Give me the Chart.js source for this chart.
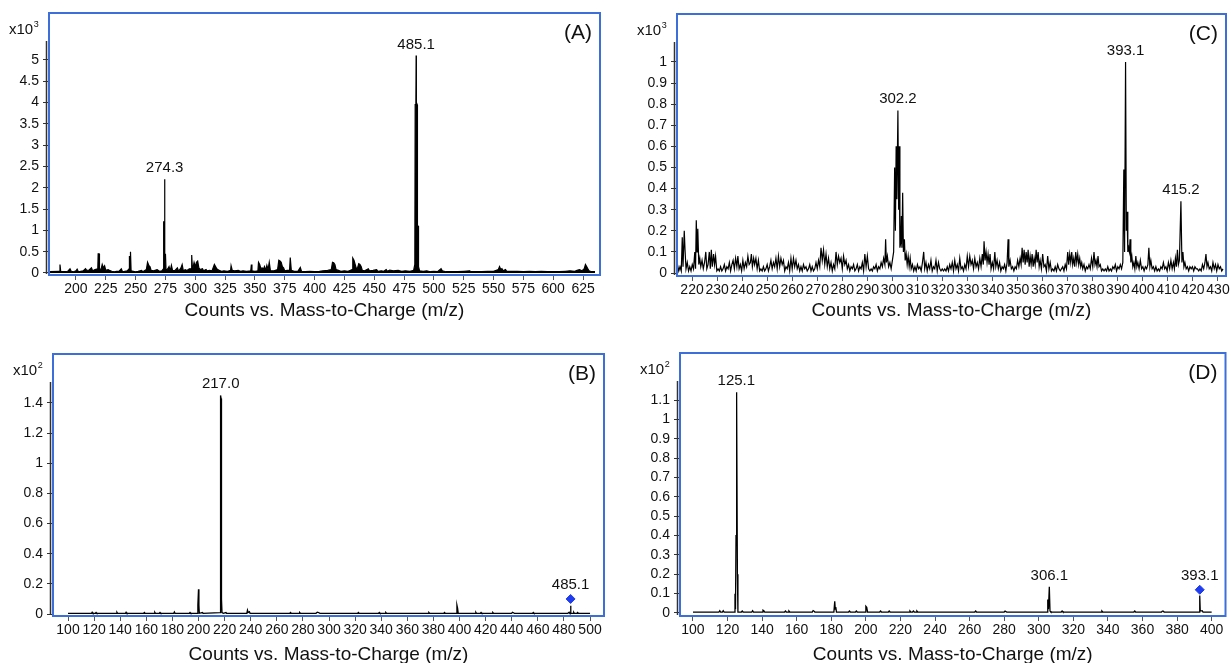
<!DOCTYPE html>
<html><head><meta charset="utf-8">
<script src="https://cdn.jsdelivr.net/npm/chart.js@4.4.0/dist/chart.umd.min.js"></script>
<style>
html,body{margin:0;padding:0;background:#fff;width:1231px;height:663px;overflow:hidden;position:relative;}
canvas{position:absolute;}
</style></head><body>
<canvas id="cA" width="615" height="331" style="left:0;top:0"></canvas>
<canvas id="cC" width="616" height="331" style="left:615px;top:0"></canvas>
<canvas id="cB" width="615" height="340" style="left:0;top:331px"></canvas>
<canvas id="cD" width="616" height="340" style="left:615px;top:331px"></canvas>
<script>
// ---------------- DATA ----------------
const xTicksA = [200,225,250,275,300,325,350,375,400,425,450,475,500,525,550,575,600,625];
const yTicksA = [0,0.5,1,1.5,2,2.5,3,3.5,4,4.5,5];
const xTicksC = [220,230,240,250,260,270,280,290,300,310,320,330,340,350,360,370,380,390,400,410,420,430];
const yTicksC = [0,0.1,0.2,0.3,0.4,0.5,0.6,0.7,0.8,0.9,1];
const xTicksB = [100,120,140,160,180,200,220,240,260,280,300,320,340,360,380,400,420,440,460,480,500];
const yTicksB = [0,0.2,0.4,0.6,0.8,1,1.2,1.4];
const xTicksD = [100,120,140,160,180,200,220,240,260,280,300,320,340,360,380,400];
const yTicksD = [0,0.1,0.2,0.3,0.4,0.5,0.6,0.7,0.8,0.9,1,1.1];

// peak labels: [m/z, height of mark top]
const peaksA = [[274.3,2.2],[485.1,5.1]];
const peaksC = [[302.2,0.77],[393.1,1.0],[415.2,0.34]];
const peaksB = [[217.0,1.45],[485.1,0.1]];
const peaksD = [[125.1,1.14],[306.1,0.135],[393.1,0.12]];
// precursor markers (blue diamonds)
const markersB = [[485.1,0.1]];
const markersD = [[393.1,0.12]];

// spectra [m/z, counts]
const specA = [[178,0.03],[186,0.04],[186.6,0.2],[187.2,0.04],[190,0.03],[193,0.04],[195,0.1],[196,0.04],[198,0.03],[200,0.05],[201,0.09],[202,0.03],[204,0.04],[206,0.05],[208,0.1],[209,0.06],[211,0.07],[213,0.12],[214,0.05],[216,0.08],[218.3,0.1],[218.6,0.45],[219.4,0.45],[219.7,0.1],[221,0.08],[222,0.2],[223,0.12],[224,0.17],[225,0.06],[227,0.08],[228,0.06],[230,0.04],[232,0.03],[234,0.04],[236,0.04],[238,0.1],[239,0.03],[241,0.04],[243,0.05],[244.5,0.1],[244.8,0.4],[245.3,0.1],[245.7,0.5],[246.2,0.05],[248,0.04],[250,0.03],[252,0.04],[255,0.06],[256,0.03],[259,0.08],[260,0.25],[261,0.18],[262,0.15],[263,0.06],[265,0.05],[268,0.08],[270,0.04],[272,0.05],[273.3,0.1],[273.5,1.2],[274.1,1.2],[274.3,2.2],[274.5,0.3],[275,0.45],[275.5,0.05],[277,0.1],[278,0.15],[279,0.05],[280,0.18],[281,0.05],[283,0.06],[285,0.12],[286,0.04],[288,0.12],[289,0.2],[290,0.05],[291.5,0.08],[293,0.06],[295,0.1],[296.5,0.1],[297,0.42],[297.5,0.15],[298,0.1],[299,0.25],[300,0.15],[301,0.25],[302,0.28],[303,0.12],[304,0.08],[306,0.1],[307,0.05],[309,0.08],[310,0.05],[312,0.06],[314,0.05],[316,0.2],[317,0.15],[318,0.1],[320,0.06],[322,0.04],[324,0.05],[327,0.04],[329.6,0.06],[330,0.17],[331,0.06],[333,0.05],[336,0.06],[338,0.04],[340,0.05],[343,0.04],[346.5,0.05],[347,0.2],[347.5,0.05],[350,0.04],[352.5,0.05],[353,0.25],[354,0.2],[355,0.1],[356,0.12],[357,0.08],[358,0.15],[359,0.06],[360,0.18],[361,0.08],[362,0.25],[363,0.05],[366,0.05],[369,0.08],[370,0.3],[371,0.28],[372,0.25],[373,0.15],[374,0.12],[375,0.05],[377,0.06],[379,0.06],[379.6,0.36],[380.2,0.36],[380.5,0.06],[383,0.04],[386,0.04],[388,0.13],[389,0.04],[392,0.03],[396,0.04],[400,0.03],[404,0.04],[407,0.05],[411,0.06],[414,0.08],[415,0.25],[416,0.24],[417,0.2],[418,0.08],[420,0.06],[422,0.04],[425,0.05],[428,0.04],[431.5,0.08],[432,0.35],[433,0.3],[434,0.2],[435,0.1],[436,0.12],[437,0.22],[438,0.2],[439,0.15],[440,0.06],[442,0.05],[445,0.1],[446,0.05],[449,0.06],[452,0.08],[453,0.04],[456,0.05],[458,0.04],[460,0.08],[461,0.04],[463,0.07],[466,0.05],[470,0.06],[473,0.04],[476,0.05],[480,0.04],[483,0.06],[484,0.2],[484.3,3.95],[484.9,4.0],[485.1,5.1],[485.3,4.0],[486.0,3.95],[486.2,1.1],[486.8,1.1],[487.1,0.15],[488,0.05],[491,0.04],[494,0.05],[497,0.03],[500,0.04],[503,0.03],[506,0.1],[507,0.05],[510,0.03],[515,0.03],[520,0.03],[525,0.04],[530,0.05],[531,0.03],[535,0.03],[540,0.03],[545,0.04],[550,0.04],[554,0.08],[555,0.15],[556,0.08],[557,0.1],[558,0.05],[560,0.08],[561,0.04],[565,0.04],[570,0.04],[575,0.03],[580,0.04],[585,0.03],[590,0.04],[595,0.03],[600,0.03],[605,0.03],[610,0.04],[614,0.05],[618,0.04],[620,0.06],[622,0.08],[624,0.05],[626,0.1],[627,0.2],[628,0.15],[629,0.1],[630,0.05],[632,0.03],[635,0.03]];

const specC = [[214.2,0.04],[214.7,0.01],[215.2,0.03],[215.7,0.01],[216.1,0.17],[216.4,0.03],[216.9,0.2],[217.2,0.11],[217.6,0.02],[218.1,0.05],[218.6,0.01],[219.1,0.03],[219.6,0.01],[220.1,0.04],[220.6,0.02],[221.1,0.1],[221.4,0.02],[221.7,0.25],[222.0,0.1],[222.3,0.21],[222.7,0.04],[223.1,0.07],[223.5,0.03],[224.0,0.06],[224.5,0.02],[225.0,0.05],[225.5,0.1],[225.9,0.02],[226.4,0.04],[226.9,0.1],[227.3,0.02],[227.7,0.11],[228.1,0.03],[228.6,0.09],[229.0,0.04],[229.4,0.08],[229.9,0.01],[230.4,0.02],[230.9,0.01],[231.4,0.03],[231.9,0.01],[232.4,0.02],[232.9,0.04],[233.4,0.01],[233.9,0.03],[234.4,0.02],[234.9,0.05],[235.4,0.01],[235.9,0.04],[236.4,0.06],[236.9,0.02],[237.4,0.07],[237.9,0.03],[238.3,0.08],[238.8,0.02],[239.3,0.04],[239.8,0.01],[240.3,0.06],[240.8,0.02],[241.3,0.05],[241.8,0.03],[242.3,0.08],[242.8,0.04],[243.3,0.05],[243.7,0.09],[244.1,0.03],[244.6,0.07],[245.0,0.04],[245.5,0.07],[246.0,0.02],[246.5,0.06],[247.0,0.01],[247.5,0.02],[248.0,0.01],[248.5,0.03],[249.0,0.01],[249.5,0.02],[250.0,0.04],[250.5,0.01],[251.0,0.03],[251.5,0.06],[252.0,0.02],[252.5,0.05],[253.0,0.03],[253.5,0.07],[254.0,0.02],[254.5,0.08],[255.0,0.03],[255.5,0.07],[256.0,0.04],[256.5,0.06],[257.0,0.01],[257.5,0.03],[258.0,0.02],[258.5,0.05],[259.0,0.01],[259.5,0.07],[260.0,0.02],[260.5,0.07],[261.0,0.03],[261.5,0.06],[262.0,0.02],[262.5,0.04],[263.0,0.01],[263.5,0.03],[264.0,0.01],[264.5,0.04],[265.0,0.02],[265.5,0.03],[266.0,0.01],[266.5,0.02],[267.0,0.04],[267.5,0.01],[268.0,0.03],[268.5,0.01],[269.0,0.02],[269.5,0.05],[270.0,0.02],[270.5,0.06],[271.0,0.03],[271.5,0.12],[272.0,0.06],[272.5,0.11],[273.0,0.04],[273.5,0.09],[274.0,0.03],[274.5,0.07],[275.0,0.02],[275.5,0.05],[276.0,0.01],[276.5,0.04],[277.0,0.02],[277.5,0.1],[278.0,0.04],[278.5,0.08],[279.0,0.05],[279.5,0.07],[280.0,0.02],[280.5,0.08],[281.0,0.04],[281.5,0.06],[282.0,0.02],[282.5,0.04],[283.0,0.01],[283.5,0.03],[284.0,0.02],[284.5,0.04],[285.0,0.01],[285.5,0.02],[286.0,0.04],[286.5,0.01],[287.0,0.03],[287.5,0.02],[288.0,0.05],[288.5,0.01],[289.0,0.09],[289.5,0.03],[290.0,0.08],[290.5,0.02],[291.0,0.01],[291.5,0.02],[292.0,0.01],[292.5,0.03],[293.0,0.02],[293.5,0.04],[294.0,0.01],[294.5,0.03],[295.0,0.02],[295.5,0.05],[296.0,0.03],[296.5,0.07],[297.0,0.04],[297.3,0.16],[297.6,0.05],[298.0,0.08],[298.5,0.03],[299.0,0.05],[299.5,0.02],[300.0,0.06],[300.5,0.1],[300.9,0.5],[301.2,0.2],[301.5,0.6],[301.8,0.35],[302.2,0.77],[302.5,0.3],[302.7,0.6],[303.0,0.12],[303.3,0.14],[303.6,0.27],[303.8,0.12],[304.1,0.38],[304.4,0.1],[304.8,0.16],[305.1,0.06],[305.5,0.09],[305.9,0.04],[306.3,0.08],[306.7,0.03],[307.1,0.07],[307.5,0.02],[308.0,0.04],[308.5,0.01],[309.0,0.03],[309.5,0.01],[310.0,0.04],[310.5,0.02],[311.0,0.03],[311.5,0.01],[312.0,0.05],[312.5,0.1],[312.9,0.02],[313.4,0.05],[313.9,0.01],[314.4,0.04],[314.9,0.02],[315.4,0.06],[315.9,0.01],[316.4,0.03],[316.9,0.02],[317.4,0.06],[317.9,0.01],[318.4,0.05],[318.9,0.02],[319.4,0.01],[319.9,0.02],[320.4,0.01],[320.9,0.02],[321.4,0.01],[321.9,0.03],[322.4,0.01],[322.9,0.04],[323.4,0.02],[323.9,0.05],[324.4,0.01],[324.9,0.06],[325.4,0.02],[325.9,0.04],[326.4,0.01],[326.9,0.07],[327.4,0.02],[327.9,0.03],[328.4,0.01],[328.9,0.04],[329.4,0.02],[329.9,0.08],[330.4,0.03],[330.9,0.08],[331.4,0.04],[331.9,0.06],[332.4,0.02],[332.9,0.07],[333.4,0.03],[333.9,0.05],[334.4,0.02],[334.9,0.07],[335.4,0.03],[335.9,0.09],[336.3,0.04],[336.6,0.15],[337.0,0.06],[337.4,0.1],[337.8,0.05],[338.2,0.09],[338.6,0.04],[339.0,0.09],[339.4,0.02],[339.9,0.05],[340.4,0.02],[340.9,0.1],[341.3,0.03],[341.8,0.06],[342.3,0.02],[342.8,0.05],[343.3,0.01],[343.8,0.03],[344.3,0.02],[344.8,0.04],[345.3,0.01],[345.8,0.05],[346.2,0.16],[346.5,0.03],[347.0,0.06],[347.5,0.02],[348.0,0.03],[348.5,0.01],[349.0,0.03],[349.5,0.02],[350.0,0.06],[350.5,0.03],[351.0,0.07],[351.4,0.04],[351.8,0.12],[352.2,0.05],[352.6,0.11],[353.0,0.04],[353.4,0.1],[353.8,0.05],[354.2,0.11],[354.6,0.03],[355.0,0.08],[355.4,0.04],[355.8,0.09],[356.2,0.03],[356.6,0.07],[357.0,0.04],[357.4,0.11],[357.8,0.05],[358.2,0.1],[358.6,0.03],[359.0,0.06],[359.5,0.02],[360.0,0.09],[360.5,0.03],[361.0,0.04],[361.5,0.01],[362.0,0.08],[362.5,0.02],[363.0,0.05],[363.5,0.01],[364.0,0.02],[364.5,0.01],[365.0,0.03],[365.5,0.01],[366.0,0.04],[366.5,0.02],[367.0,0.01],[367.5,0.02],[368.0,0.03],[368.5,0.01],[369.0,0.04],[369.5,0.02],[370.0,0.1],[370.4,0.04],[370.8,0.09],[371.2,0.05],[371.6,0.1],[372.0,0.04],[372.4,0.07],[372.8,0.03],[373.2,0.1],[373.6,0.05],[374.0,0.09],[374.4,0.04],[374.8,0.07],[375.2,0.03],[375.6,0.05],[376.0,0.02],[376.5,0.04],[377.0,0.01],[377.5,0.03],[378.0,0.02],[378.5,0.04],[379.0,0.02],[379.5,0.07],[380.0,0.03],[380.5,0.1],[380.9,0.04],[381.3,0.06],[381.7,0.03],[382.1,0.08],[382.5,0.03],[383.0,0.04],[383.5,0.01],[384.0,0.02],[384.5,0.01],[385.0,0.02],[385.5,0.01],[386.0,0.03],[386.5,0.01],[387.0,0.02],[387.5,0.01],[388.0,0.03],[388.5,0.02],[389.0,0.04],[389.5,0.01],[390.0,0.03],[390.5,0.02],[391.0,0.04],[391.5,0.02],[392.0,0.05],[392.4,0.49],[392.7,0.1],[393.1,1.0],[393.4,0.2],[393.7,0.29],[394.0,0.1],[394.3,0.12],[394.6,0.1],[394.9,0.16],[395.2,0.05],[395.6,0.08],[396.0,0.03],[396.4,0.05],[396.8,0.02],[397.2,0.08],[397.6,0.03],[398.0,0.05],[398.5,0.02],[399.0,0.06],[399.5,0.02],[400.0,0.03],[400.5,0.01],[401.0,0.03],[401.5,0.02],[402.0,0.04],[402.4,0.12],[402.8,0.03],[403.2,0.06],[403.7,0.02],[404.2,0.03],[404.7,0.01],[405.2,0.03],[405.7,0.01],[406.2,0.02],[406.7,0.01],[407.2,0.03],[407.7,0.02],[408.2,0.05],[408.7,0.02],[409.2,0.03],[409.7,0.01],[410.2,0.05],[410.7,0.02],[411.2,0.06],[411.7,0.02],[412.2,0.05],[412.6,0.02],[413.0,0.07],[413.4,0.03],[413.8,0.11],[414.2,0.04],[414.6,0.06],[415.2,0.34],[415.6,0.05],[416.0,0.1],[416.4,0.03],[416.8,0.05],[417.3,0.02],[417.8,0.03],[418.3,0.01],[418.8,0.03],[419.3,0.02],[419.8,0.03],[420.3,0.01],[420.8,0.03],[421.3,0.02],[421.8,0.02],[422.3,0.01],[422.8,0.02],[423.3,0.01],[423.8,0.04],[424.3,0.02],[424.8,0.05],[425.2,0.09],[425.6,0.03],[426.0,0.05],[426.5,0.02],[427.0,0.03],[427.5,0.01],[428.0,0.05],[428.5,0.02],[429.0,0.04],[429.5,0.01],[430.0,0.04],[430.5,0.02],[431.0,0.03],[431.5,0.01],[432.0,0.02]];

const specB = [[100,0.005],[118,0.005],[118.5,0.012],[119,0.005],[121,0.005],[121.5,0.01],[122,0.005],[137,0.005],[137.5,0.012],[138,0.005],[144,0.005],[144.5,0.012],[145,0.005],[158,0.005],[158.5,0.01],[159,0.005],[166,0.005],[166.5,0.012],[167,0.005],[170,0.005],[170.5,0.01],[171,0.005],[181,0.005],[181.5,0.014],[182,0.005],[193,0.005],[193.5,0.01],[194,0.005],[199,0.005],[199.5,0.06],[200,0.165],[200.3,0.06],[200.6,0.005],[203,0.01],[203.5,0.005],[216.5,0.01],[216.8,0.3],[217.0,1.45],[217.3,1.43],[217.6,0.1],[218,0.01],[219,0.005],[221,0.01],[221.5,0.005],[237,0.005],[237.5,0.025],[238,0.01],[239,0.015],[239.5,0.005],[270,0.005],[270.5,0.01],[271,0.005],[277,0.005],[277.5,0.01],[278,0.005],[290,0.005],[291,0.012],[292,0.01],[293,0.005],[322,0.005],[322.5,0.01],[323,0.005],[338,0.005],[338.5,0.01],[339,0.005],[343,0.005],[343.5,0.01],[344,0.005],[376,0.005],[376.5,0.01],[377,0.005],[388,0.005],[388.5,0.01],[389,0.005],[397.5,0.005],[398,0.06],[398.5,0.04],[399,0.005],[412,0.005],[412.5,0.012],[413,0.005],[416,0.005],[416.5,0.01],[417,0.005],[425,0.005],[425.5,0.01],[426,0.005],[440,0.005],[440.5,0.012],[441,0.01],[442,0.005],[456,0.005],[456.5,0.01],[457,0.005],[483,0.005],[484,0.012],[484.5,0.005],[485,0.005],[485.1,0.055],[485.4,0.005],[487,0.005],[487.5,0.012],[488,0.005],[490,0.005],[490.5,0.01],[491,0.005],[500,0.005]];

const specD = [[100,0.005],[115,0.005],[115.5,0.012],[116,0.005],[117,0.005],[117.5,0.012],[118,0.005],[124,0.005],[124.3,0.1],[124.6,0.02],[124.9,0.4],[125.1,1.14],[125.4,1.12],[125.7,0.2],[126,0.005],[128,0.005],[128.5,0.01],[129,0.005],[134,0.005],[134.5,0.012],[135,0.005],[140,0.005],[140.5,0.015],[141,0.012],[141.5,0.005],[153,0.005],[153.5,0.01],[154,0.005],[155,0.005],[155.5,0.01],[156,0.005],[169,0.005],[169.5,0.012],[170,0.01],[170.5,0.005],[181.5,0.005],[182,0.06],[182.3,0.02],[182.6,0.03],[183,0.005],[190,0.005],[190.5,0.01],[191,0.005],[194,0.005],[194.5,0.01],[195,0.005],[199.5,0.005],[200,0.035],[200.5,0.03],[201,0.005],[208,0.005],[208.5,0.01],[209,0.005],[213,0.005],[213.5,0.01],[214,0.005],[225,0.005],[225.5,0.01],[226,0.005],[227,0.005],[227.5,0.01],[228,0.005],[229,0.005],[229.5,0.01],[230,0.005],[263,0.005],[263.5,0.01],[264,0.005],[280,0.005],[280.5,0.01],[281,0.01],[281.5,0.005],[304.8,0.005],[305.2,0.07],[305.6,0.02],[306.1,0.135],[306.5,0.01],[307,0.005],[313,0.005],[313.5,0.01],[314,0.005],[336,0.005],[336.5,0.01],[337,0.005],[355,0.005],[355.5,0.01],[356,0.005],[371,0.005],[371.5,0.01],[372,0.01],[372.5,0.005],[392.7,0.005],[393.1,0.09],[393.4,0.01],[394.5,0.012],[395,0.005],[400,0.005]];

// ---------------- DRAWING ----------------
const FONT = '"Liberation Sans", Arial, Helvetica, sans-serif';
Chart.defaults.font.family = FONT;
Chart.defaults.color = '#111';

const decor = {
  id: 'decor',
  afterDraw(chart) {
    const o = chart.options.plugins.decor;
    const {ctx, chartArea: a, scales} = chart;
    ctx.save();
    // y axis line
    ctx.strokeStyle = '#333'; ctx.lineWidth = 1.5;
    ctx.beginPath(); ctx.moveTo(a.left - 2.5, a.top + 28); ctx.lineTo(a.left - 2.5, a.bottom - 1); ctx.stroke();
    // blue frame
    ctx.strokeStyle = '#3d6fd8'; ctx.lineWidth = 2;
    ctx.strokeRect(a.left, a.top, a.right - a.left, a.bottom - a.top);
    ctx.fillStyle = '#111';
    // multiplier
    ctx.textBaseline = 'alphabetic'; ctx.textAlign = 'left';
    ctx.font = '15px ' + FONT;
    ctx.fillText('x10', a.left - 40, a.top + 21);
    const w = ctx.measureText('x10').width;
    ctx.font = '9px ' + FONT;
    ctx.fillText(o.exp, a.left - 40 + w + 0.5, a.top + 14);
    // tag
    ctx.font = '21px ' + FONT; ctx.textAlign = 'right';
    ctx.fillText(o.tag, a.right - 8, a.top + 26);
    // peak labels
    ctx.font = '15px ' + FONT; ctx.textAlign = 'center';
    o.peaks.forEach(([mz, h]) => {
      const isMarker = o.markers.some(m => m[0] === mz);
      const x = scales.x.getPixelForValue(mz);
      const y = scales.y.getPixelForValue(h) - (isMarker ? 10 : 7);
      ctx.fillText(mz.toFixed(1), x, y);
    });
    ctx.restore();
  }
};

function panel(id, spec, markers, peaks, xTicks, yTicks, ax, tag, exp, geo) {
  const cv = document.getElementById(id);
  const W = cv.width, H = cv.height;
  new Chart(cv.getContext('2d'), {
    type: 'line',
    data: {
      datasets: [
        { type: 'scatter', data: markers.map(m => ({x: m[0], y: m[1]})), pointStyle: 'rectRot', pointRadius: 4.5,
          backgroundColor: '#1f3cf0', borderColor: '#1f3cf0', borderWidth: 1, order: 0 },
        { data: spec.map(p => ({x: p[0], y: p[1]})), borderColor: '#000', borderWidth: geo.lw, pointRadius: 0,
          tension: 0, fill: geo.fill ? 'origin' : false, backgroundColor: geo.fill || 'transparent', order: 1 }
      ]
    },
    options: {
      responsive: false, animation: false, devicePixelRatio: 1,
      layout: { padding: { left: 0, top: geo.top, right: W - geo.right, bottom: 0 } },
      plugins: { legend: { display: false }, tooltip: { enabled: false },
                 decor: { tag, exp, peaks, markers } },
      scales: {
        x: {
          type: 'linear', min: ax[0], max: ax[1],
          afterFit(s) { s.height = H - geo.bottom; },
          afterBuildTicks(s) { s.ticks = xTicks.map(v => ({value: v})); },
          ticks: { autoSkip: false, maxRotation: 0, minRotation: 0, padding: 1, font: { size: 14 }, color: '#111',
                   callback: v => String(v) },
          grid: { drawOnChartArea: false, drawTicks: true, tickLength: 5, color: '#555', lineWidth: 1 },
          border: { display: false },
          title: { display: true, text: 'Counts vs. Mass-to-Charge (m/z)', font: { size: 19 }, color: '#111',
                   padding: { top: 0, bottom: geo.tb } }
        },
        y: {
          type: 'linear', min: ax[2], max: ax[3],
          afterFit(s) { s.width = geo.left; },
          afterBuildTicks(s) { s.ticks = yTicks.map(v => ({value: v})); },
          ticks: { padding: 4, font: { size: 14 }, color: '#111', callback: v => String(v) },
          grid: { drawOnChartArea: false, drawTicks: true, tickLength: 6, color: '#333', lineWidth: 1 },
          border: { display: false }
        }
      }
    },
    plugins: [decor]
  });
}

panel('cA', specA, [], peaksA, xTicksA, yTicksA, [177.4, 639.2, -0.047, 6.10], '(A)', '3',
      { left: 49, top: 13, right: 600, bottom: 275, tb: 8.6, lw: 1.2, fill: '#000' });
panel('cC', specC, [], peaksC, xTicksC, yTicksC, [214.0, 433.2, -0.014, 1.227], '(C)', '3',
      { left: 62, top: 14, right: 611, bottom: 276, tb: 8.6, lw: 1.2, fill: null });
panel('cB', specB, markersB, peaksB, xTicksB, yTicksB, [88.5, 510.7, -0.013, 1.725], '(B)', '2',
      { left: 53, top: 23, right: 604, bottom: 285, tb: 4.6, lw: 1.3, fill: null });
panel('cD', specD, markersD, peaksD, xTicksD, yTicksD, [92.5, 408.0, -0.0155, 1.343], '(D)', '2',
      { left: 65, top: 22, right: 613, bottom: 285, tb: 4.6, lw: 1.3, fill: null });
</script>
</body></html>
